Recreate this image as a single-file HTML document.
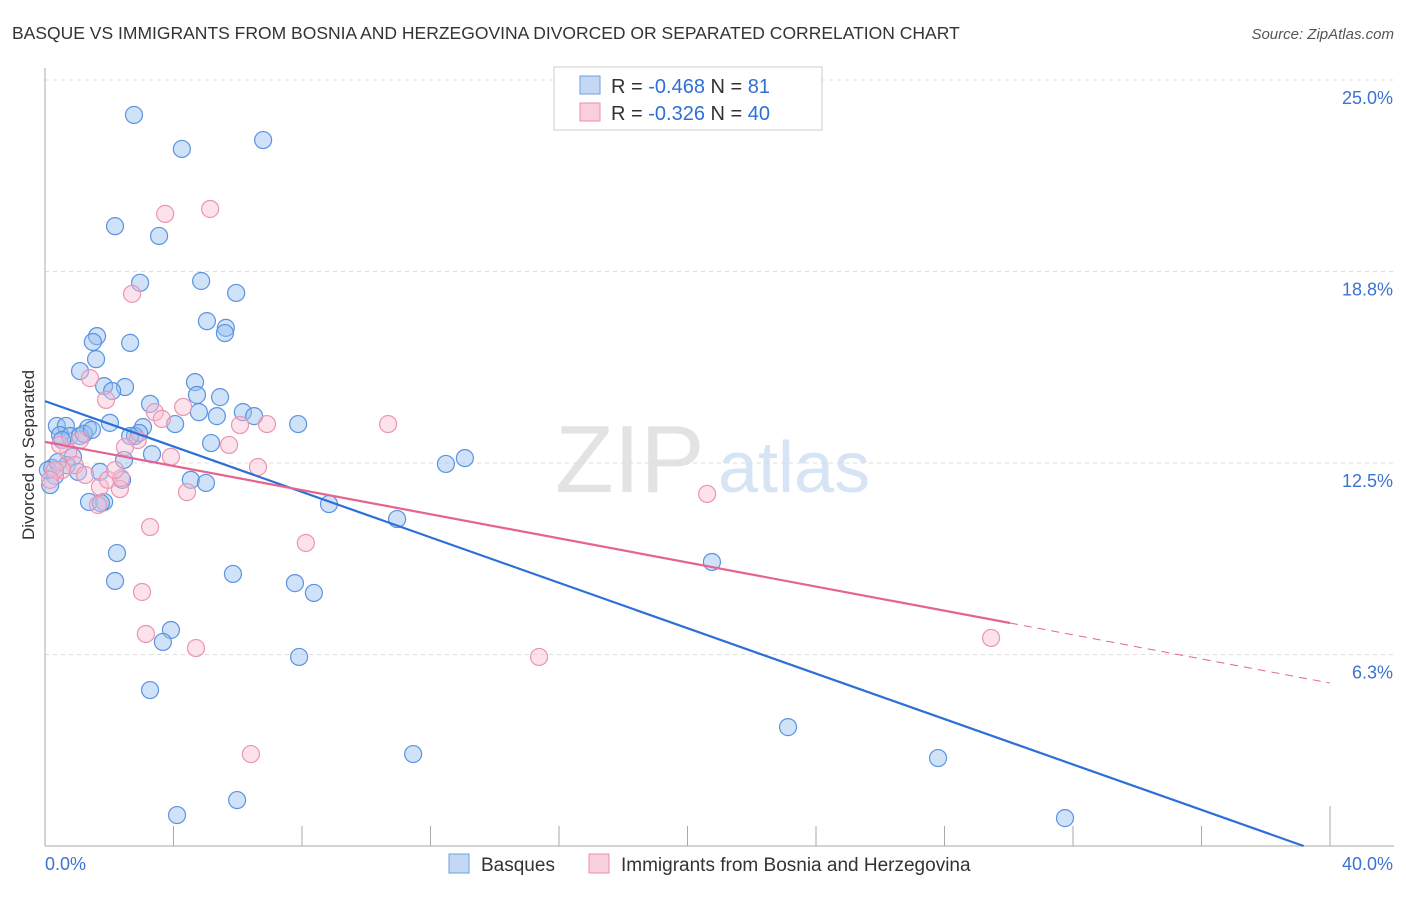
<!DOCTYPE html>
<html><head><meta charset="utf-8"><style>
body{margin:0;background:#fff;font-family:"Liberation Sans",sans-serif}
svg text{font-family:"Liberation Sans",sans-serif}
</style></head><body>
<svg id="c" width="1406" height="892">
<text x="12" y="39" font-size="17.5" fill="#333">BASQUE VS IMMIGRANTS FROM BOSNIA AND HERZEGOVINA DIVORCED OR SEPARATED CORRELATION CHART</text>
<text x="1394" y="39" font-size="15" fill="#555" font-style="italic" text-anchor="end">Source: ZipAtlas.com</text>
<text x="555" y="492" font-size="96" fill="#e3e3e3" font-family="Liberation Serif">ZIP</text>
<text x="718" y="492" font-size="72" fill="#d6e4f5">atlas</text>
<text transform="translate(34,455) rotate(-90)" font-size="17" fill="#333" text-anchor="middle">Divorced or Separated</text>
<g id="grid"></g><g id="pts"></g><g id="lines"></g>
<g>
<rect x="554" y="67" width="268" height="63" fill="#fff" stroke="#ccc"/>
<rect x="580" y="76" width="20" height="18" fill="#c5d8f3" stroke="#6e9fe0"/>
<text x="611" y="93" font-size="20" fill="#333">R = <tspan fill="#2f6fd6">-0.468</tspan>   N =  <tspan fill="#2f6fd6">81</tspan></text>
<rect x="580" y="103" width="20" height="18" fill="#f9cfdc" stroke="#ea8fae"/>
<text x="611" y="120" font-size="20" fill="#333">R = <tspan fill="#2f6fd6">-0.326</tspan>   N = <tspan fill="#2f6fd6">40</tspan></text>
</g>
<g>
<rect x="449" y="854" width="20" height="19" fill="#c5d8f3" stroke="#6e9fe0"/>
<text x="481" y="871" font-size="19" fill="#333">Basques</text>
<rect x="589" y="854" width="20" height="19" fill="#f9cfdc" stroke="#ea8fae"/>
<text x="621" y="871" font-size="19" fill="#333">Immigrants from Bosnia and Herzegovina</text>
</g>
</svg>
<script>
const yTicks=[6.25,12.5,18.75,25];
const yTickLabels=["6.3%","12.5%","18.8%","25.0%"];
const xTicks=[4,8,12,16,20,24,28,32,36,40];
const blueX=[2.77,4.26,6.79,2.18,3.55,2.96,4.86,5.95,5.04,5.63,5.60,1.62,1.49,2.65,1.59,1.09,1.84,2.49,4.67,2.09,3.27,4.73,5.45,4.79,5.35,6.16,6.51,7.88,4.05,3.05,2.02,1.34,0.37,0.65,0.47,0.78,1.09,1.21,1.46,2.80,2.93,5.17,3.33,2.46,0.87,0.68,1.71,2.40,1.03,0.31,0.22,4.54,5.01,1.37,1.84,8.84,10.96,12.48,13.07,2.24,2.18,5.85,7.78,8.37,20.76,3.92,3.67,7.91,3.27,23.13,11.46,27.80,5.98,4.11,31.75,0.16,0.09,0.40,1.74,0.53,2.65];
const blueY=[23.86,22.75,23.04,20.23,19.91,18.38,18.44,18.05,17.13,16.91,16.74,16.64,16.45,16.42,15.89,15.50,15.01,14.98,15.14,14.85,14.43,14.72,14.65,14.16,14.03,14.16,14.03,13.77,13.77,13.67,13.81,13.64,13.71,13.71,13.41,13.38,13.38,13.45,13.58,13.38,13.48,13.15,12.79,12.60,12.70,12.43,12.21,11.95,12.21,12.08,12.34,11.95,11.85,11.23,11.23,11.16,10.67,12.47,12.66,9.56,8.65,8.88,8.58,8.26,9.27,7.05,6.66,6.17,5.09,3.88,3.00,2.87,1.50,1.01,0.91,11.78,12.27,12.53,11.19,13.25,13.38];
const pinkX=[3.74,5.14,2.71,1.40,1.90,3.42,3.64,4.30,2.89,2.49,6.07,5.73,6.91,10.68,3.92,6.63,0.72,0.93,0.53,1.25,1.71,1.96,2.33,2.37,1.65,4.42,3.27,8.12,20.61,3.02,3.14,4.70,15.38,6.41,29.45,0.31,0.16,0.47,1.09,2.18];
const pinkY=[20.63,20.79,18.02,15.27,14.56,14.16,13.94,14.33,13.25,13.02,13.74,13.09,13.77,13.77,12.70,12.37,12.86,12.43,12.27,12.11,11.72,11.95,11.65,12.01,11.13,11.55,10.41,9.89,11.49,8.29,6.92,6.46,6.17,3.00,6.79,12.27,11.95,13.09,13.25,12.27];
const blueTrend=[14.52,-0.3706];
const pinkTrend=[13.19,-0.1968];
const pinkSolidEnd=30.04;
const X=v=>45+v*32.125, Y=v=>846-v*30.64;
const NS="http://www.w3.org/2000/svg";
function mk(t,a,p){const e=document.createElementNS(NS,t);for(const k in a)e.setAttribute(k,a[k]);p.appendChild(e);return e;}
const grid=document.getElementById('grid');
yTicks.forEach((t,i)=>{
 const l=mk('line',{x1:45,x2:1394,y1:Y(t),y2:Y(t),stroke:'#ddd','stroke-dasharray':'4,4'},grid);
 
 
 const tx=mk('text',{x:1393,y:Y(t)+24,'font-size':18,fill:'#3b73d1','text-anchor':'end'},grid);
 tx.textContent=yTickLabels[i];
 
 
});
const ax=mk('line',{x1:45,x2:1394,y1:846,y2:846,stroke:'#aaa'},grid);


const ay=mk('line',{x1:45,x2:45,y1:68,y2:846,stroke:'#aaa'},grid);


xTicks.forEach(t=>{const l=mk('line',{x1:X(t),x2:X(t),y1:t==40?806:826,y2:846,stroke:'#aaa'},grid);
 
 });
[["0.0%",45,'start'],["40.0%",1393,'end']].forEach(a=>{const tx=mk('text',{x:a[1],y:870,'font-size':18,fill:'#3b73d1','text-anchor':a[2]},grid);tx.textContent=a[0];
 
 });
const pts=document.getElementById('pts');
blueX.forEach((v,i)=>{const c=mk('circle',{cx:X(v),cy:Y(blueY[i]),r:8.5,fill:'rgba(150,190,240,0.45)',stroke:'#5b93e0','stroke-width':1.2},pts);
 
 });
pinkX.forEach((v,i)=>{const c=mk('circle',{cx:X(v),cy:Y(pinkY[i]),r:8.5,fill:'rgba(248,190,210,0.45)',stroke:'#ec94b3','stroke-width':1.2},pts);
 
 });
const lines=document.getElementById('lines');
const bEnd=-blueTrend[0]/blueTrend[1];
const bl=mk('line',{x1:X(0),y1:Y(blueTrend[0]),x2:X(bEnd),y2:Y(0),stroke:'#2d6fd8','stroke-width':2.2},lines);


const pl=mk('line',{x1:X(0),y1:Y(pinkTrend[0]),x2:X(pinkSolidEnd),y2:Y(pinkTrend[0]+pinkTrend[1]*pinkSolidEnd),stroke:'#e5648f','stroke-width':2.2},lines);


const pd=mk('line',{x1:X(pinkSolidEnd),y1:Y(pinkTrend[0]+pinkTrend[1]*pinkSolidEnd),x2:X(40),y2:Y(pinkTrend[0]+pinkTrend[1]*40),stroke:'#e5648f','stroke-width':1,'stroke-dasharray':'8,6'},lines);


</script>
</body></html>
